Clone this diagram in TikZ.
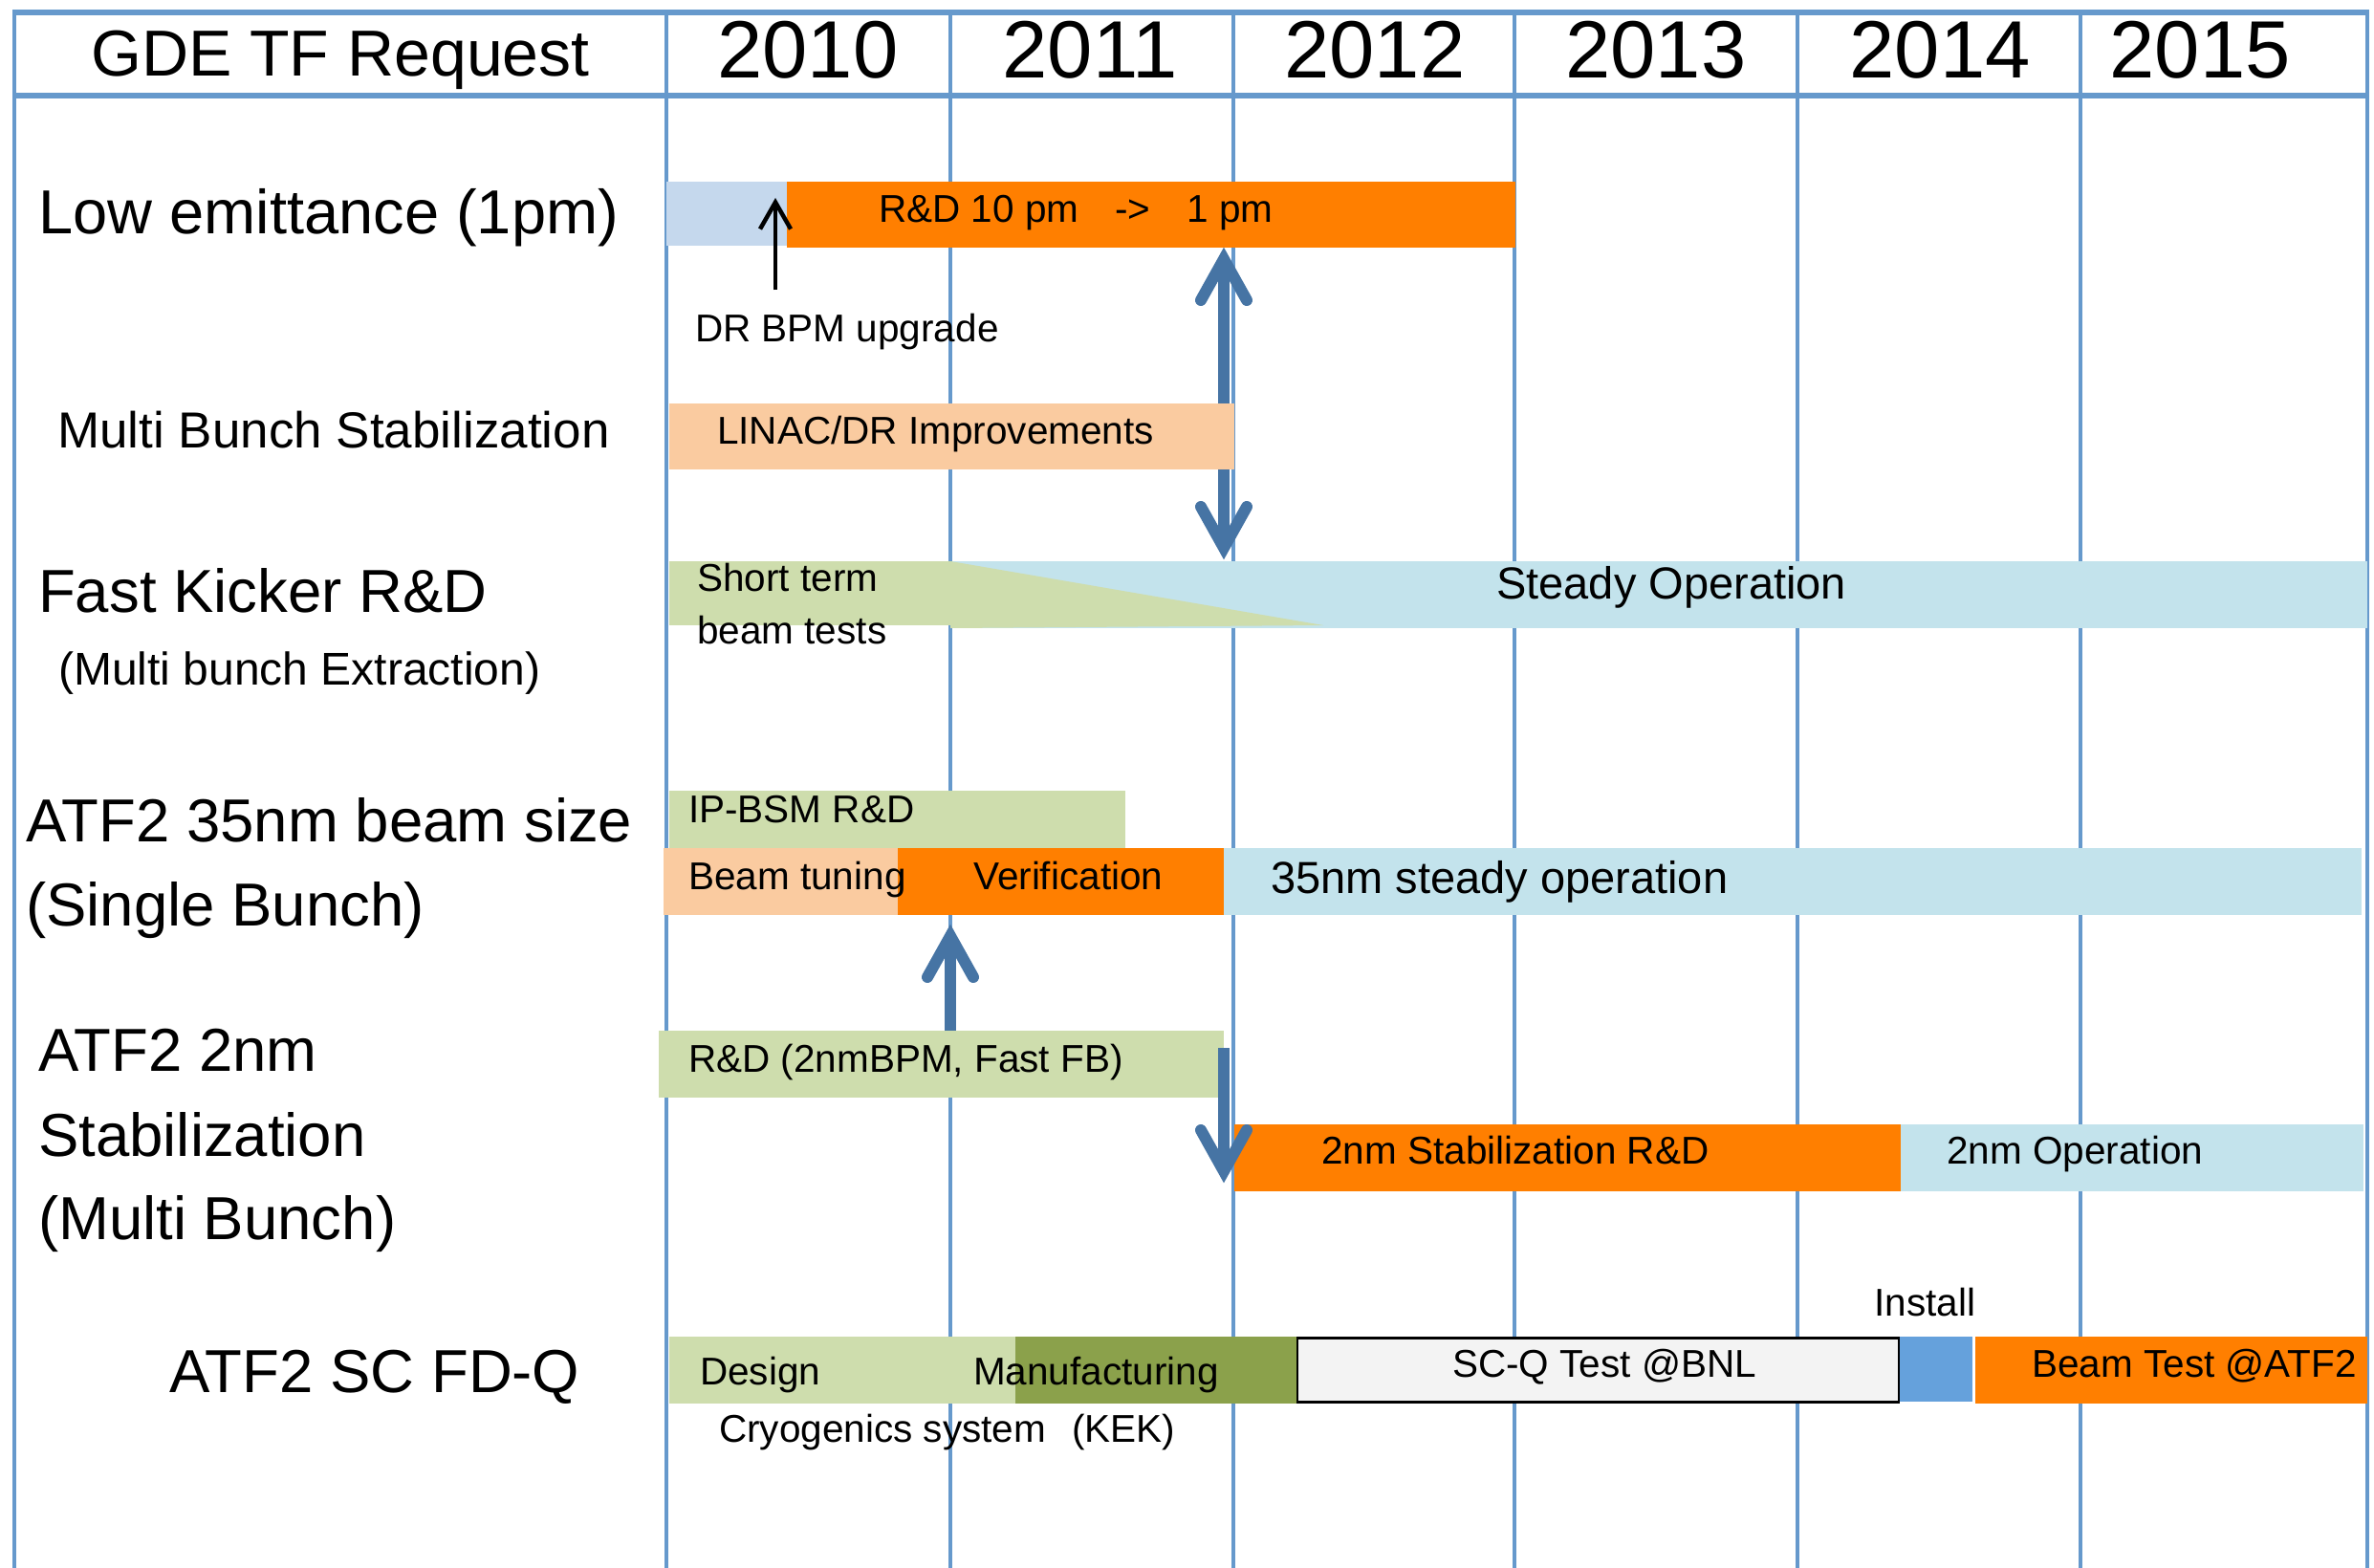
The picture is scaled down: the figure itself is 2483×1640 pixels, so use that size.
\documentclass[tikz,border=0pt]{standalone}
\usepackage{fontspec}
\setmainfont{Liberation Sans}
\usetikzlibrary{arrows.meta,calc}

\definecolor{gridblue}{RGB}{102,153,204}
\definecolor{paleblue}{RGB}{197,216,237}
\definecolor{barorange}{RGB}{255,127,0}
\definecolor{peach}{RGB}{250,203,160}
\definecolor{lgreen}{RGB}{206,221,173}
\definecolor{lcyan}{RGB}{195,227,236}
\definecolor{dgreen}{RGB}{139,161,75}
\definecolor{boxgray}{RGB}{243,243,243}
\definecolor{installblue}{RGB}{101,161,220}
\definecolor{arrowblue}{RGB}{70,116,164}

% a filled schedule bar spanning (x1,y1)-(x2,y2): name, x1, y1, x2, y2, colour
\newcommand\ganttbar[6]{%
  \node[ganttbox=#6,minimum width={(#4-#2)*1pt},minimum height={(#5-#3)*1pt}]
    (#1) at ({(#2+#4)/2},{(#3+#5)/2}) {};}
% open V head of a thick blue arrow: tip coordinate, +1 points up, -1 points down
\newcommand\vhead[2]{%
  \draw[bluehead] ($(#1)+(-24,#2*55)$) -- ($(#1)+(0,#2*12)$) -- ($(#1)+(24,#2*55)$);}

\begin{document}
\begin{tikzpicture}[x=1pt,y=-1pt,
  gridline/.style={draw=gridblue,line width=4.5pt},
  frameline/.style={draw=gridblue,line width=5.5pt},
  ganttbox/.style={rectangle,inner sep=0pt,outer sep=0pt,draw=none,fill=#1},
  bluehead/.style={draw=arrowblue,line width=12pt,line cap=round,line join=miter},
  blueshaft/.style={draw=arrowblue,line width=12pt},
  bartext/.style={anchor=base west,inner sep=0pt,font=\fontsize{40.5}{48}\selectfont},
  midtext/.style={anchor=base west,inner sep=0pt,font=\fontsize{47}{56}\selectfont},
  rowtext/.style={anchor=base west,inner sep=0pt,font=\fontsize{63.5}{76}\selectfont},
  yeartext/.style={anchor=base,inner sep=0pt,font=\fontsize{85}{100}\selectfont},
]
\useasboundingbox (0,0) rectangle (2483,1640);

% ---- table frame and year columns
\foreach \gx in {15,697,994,1290,1584,1880,2176,2476}
  \draw[gridline] (\gx,11) -- (\gx,1640);
\draw[frameline] (13,13) -- (2478,13);
\draw[frameline] (13,100) -- (2478,100);

\node[anchor=base,inner sep=0pt,font=\fontsize{68}{80}\selectfont] (head) at (356,80) {GDE TF Request};
\node[yeartext] (y2010) at (845,82) {2010};
\node[yeartext] (y2011) at (1140,82) {2011};
\node[yeartext] (y2012) at (1438,82) {2012};
\node[yeartext] (y2013) at (1732,82) {2013};
\node[yeartext] (y2014) at (2029,82) {2014};
\node[yeartext] (y2015) at (2301,82) {2015};

% ---- row titles
\node[anchor=base west,inner sep=0pt,font=\fontsize{65}{78}\selectfont] (rowemit) at (40,244) {Low emittance (1pm)};
\node[anchor=base west,inner sep=0pt,font=\fontsize{53}{64}\selectfont] (rowmbs) at (60,468) {Multi Bunch Stabilization};
\node[rowtext] (rowkick) at (40,640) {Fast Kicker R\&D};
\node[anchor=base west,inner sep=0pt,font=\fontsize{48}{58}\selectfont] (rowkicksub) at (61,716) {(Multi bunch Extraction)};
\node[rowtext] (rowbeam) at (27,880) {ATF2 35nm beam size};
\node[rowtext] (rowbeamsub) at (27,968) {(Single Bunch)};
\node[rowtext] (rowstabA) at (40,1120) {ATF2 2nm};
\node[rowtext] (rowstabB) at (40,1209) {Stabilization};
\node[rowtext] (rowstabC) at (40,1296) {(Multi Bunch)};
\node[rowtext] (rowfdq) at (177,1456) {ATF2 SC FD-Q};

% ---- first segment of the long double arrow runs behind the LINAC bar
\ganttbar{paleblue}{697}{190}{823}{257}{paleblue}
\ganttbar{rdpm}{823}{190}{1585}{259}{barorange}
\ganttbar{shortterm}{700}{587}{994}{654}{lgreen}
\ganttbar{steady}{994}{587}{2476}{657}{lcyan}
\ganttbar{verif}{939}{887}{1280}{957}{barorange}
\coordinate (bigtop) at (verif.east |- rdpm.south);
\coordinate (bigbot) at ($(verif.east |- steady.north)+(0,-2)$);
\draw[blueshaft] ($(bigtop)+(0,12)$) -- ($(bigbot)+(0,-12)$);

% ---- schedule bars
\ganttbar{linac}{700}{422}{1291}{491}{peach}
\fill[lgreen] (steady.north west) -- (steady.south west) -- ($(steady.south west)+(390,-3)$) -- cycle;
\ganttbar{ipbsm}{700}{827}{1177}{887}{lgreen}
\ganttbar{tuning}{694}{887}{939}{957}{peach}
\ganttbar{steadyA}{1280}{887}{2470}{957}{lcyan}
\ganttbar{rdtwo}{689}{1078}{1280}{1148}{lgreen}
\ganttbar{stabtwo}{1291}{1176}{1988}{1246}{barorange}
\ganttbar{optwo}{1988}{1176}{2472}{1246}{lcyan}
\ganttbar{design}{700}{1398}{1062}{1468}{lgreen}
\ganttbar{manuf}{1062}{1398}{1356}{1468}{dgreen}
\node[rectangle,inner sep=0pt,outer sep=0pt,fill=boxgray,draw=black,line width=2.5pt,
      minimum width=629pt,minimum height=67pt] (scq) at (1671.5,1433) {};
\ganttbar{install}{1987}{1398}{2063}{1466}{installblue}
\ganttbar{beamtest}{2066}{1398}{2476}{1468}{barorange}

% ---- thick blue arrows
\vhead{bigtop}{1}
\vhead{bigbot}{-1}
\coordinate (uptip) at ($(shortterm.east |- verif.south)+(0,10)$);
\coordinate (upbase) at (shortterm.east |- rdtwo.north);
\draw[blueshaft] (upbase) -- ($(uptip)+(0,12)$);
\vhead{uptip}{1}
\coordinate (dntop) at ($(rdtwo.north east)+(0,18)$);
\coordinate (dntip) at ($(rdtwo.east |- stabtwo.south)+(0,-9)$);
\draw[blueshaft] (dntop) -- ($(dntip)+(0,-12)$);
\vhead{dntip}{-1}

% ---- bar labels
\node[bartext] (t-rdpm) at (919,233) {R\&D 10 pm\hspace{38pt}->\hspace{38pt}1 pm};
\node[bartext] (bpm) at (727,357) {DR BPM upgrade};
\coordinate (bpmtip) at ($(paleblue.north east)+(-12,17)$);
\coordinate (bpmtail) at ($(bpm.north west)+(84,-24)$);
\draw[line width=4.5pt,-{Straight Barb[length=28pt,width=32pt]}] (bpmtail) -- (bpmtip);
\node[bartext] (t-linac) at (750,464) {LINAC/DR Improvements};
\node[bartext] (t-shortA) at (729,618) {Short term};
\node[bartext] (t-shortB) at (729,673) {beam tests};
\node[midtext] (t-steady) at (1565,626) {Steady Operation};
\node[bartext] (t-ipbsm) at (720,860) {IP-BSM R\&D};
\node[bartext] (t-tuning) at (720,930) {Beam tuning};
\node[bartext] (t-verif) at (1018,930) {Verification};
\node[midtext] (t-steadyA) at (1329,934) {35nm steady operation};
\node[bartext] (t-rdtwo) at (720,1121) {R\&D (2nmBPM, Fast FB)};
\node[bartext] (t-stabtwo) at (1382,1217) {2nm Stabilization R\&D};
\node[bartext] (t-optwo) at (2036,1217) {2nm Operation};
\node[bartext] (t-design) at (732,1448) {Design};
\node[bartext] (t-manuf) at (1018,1448) {Manufacturing};
\node[bartext] (t-scq) at (1519,1440) {SC-Q Test @BNL};
\node[bartext] (t-install) at (1960,1376) {Install};
\node[bartext] (t-beamtest) at (2125,1440) {Beam Test @ATF2};
\node[bartext] (t-cryo) at (752,1508) {Cryogenics system\hspace{27pt}(KEK)};
\end{tikzpicture}
\end{document}
